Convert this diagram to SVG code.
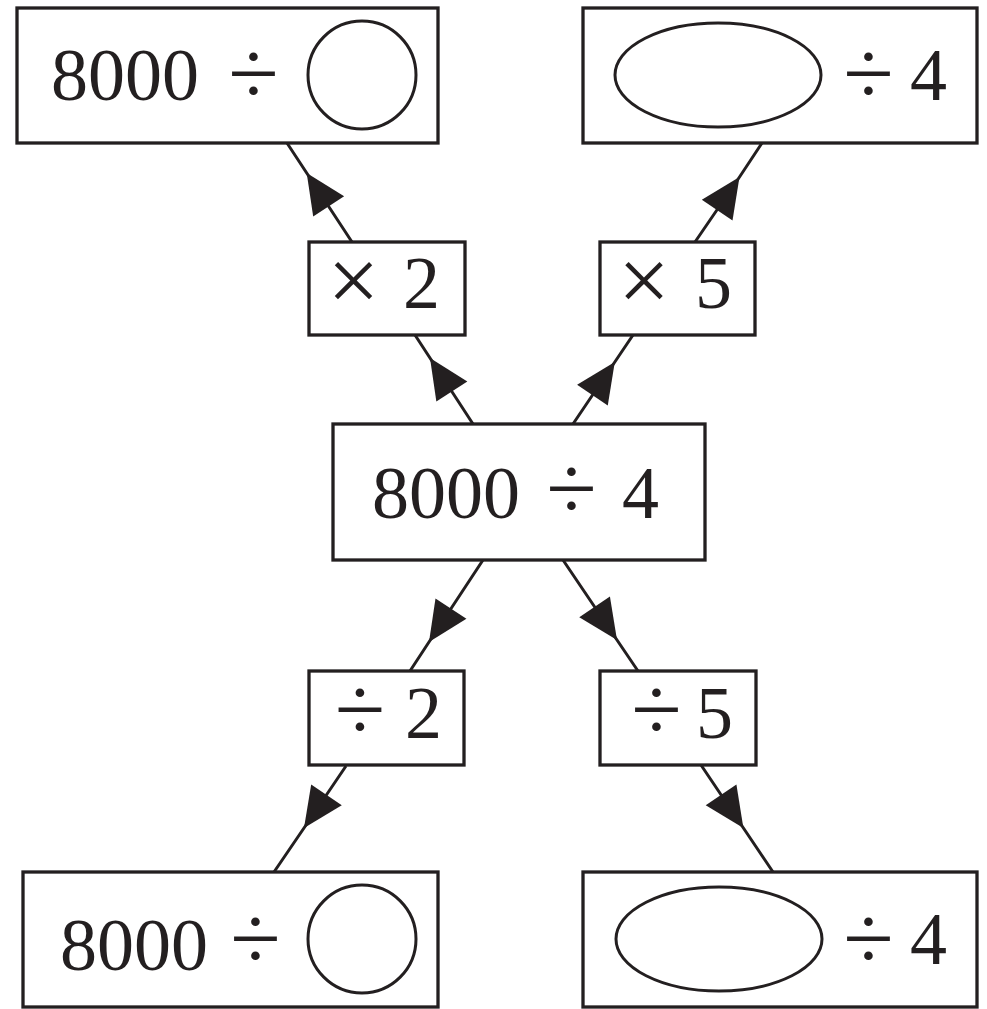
<svg xmlns="http://www.w3.org/2000/svg" width="987" height="1009" viewBox="0 0 987 1009">
<style>
.box{fill:#fff;stroke:#231f20;stroke-width:3.3}
.blank{fill:none;stroke:#231f20;stroke-width:3}
.t{font-family:"Liberation Serif","Times New Roman",serif;font-size:74px;fill:#231f20}
.op{font-family:"Liberation Serif","Times New Roman",serif;font-size:92px;fill:#231f20;text-anchor:middle}
.c{fill:none;stroke:#231f20;stroke-width:3;marker-mid:url(#ah)}
</style>
<defs>
<marker id="ah" markerUnits="userSpaceOnUse" markerWidth="60" markerHeight="60" viewBox="-50 -25 60 50" refX="0" refY="0" orient="auto" overflow="visible">
<polygon points="0,0 -40,-18.5 -40,18.5" fill="#231f20"/>
</marker>
</defs>
<rect width="987" height="1009" fill="#fff"/>
<g id="connectors">
<path class="c" d="M352,242 L306.7,173 L287,143"/>
<path class="c" d="M473,424 L430,358 L415,335"/>
<path class="c" d="M573,424 L614.8,362 L633,335"/>
<path class="c" d="M695,242 L739.5,177 L762,143"/>
<path class="c" d="M483,560 L429,642 L410,671"/>
<path class="c" d="M346,766 L304,828 L274,872"/>
<path class="c" d="M563,560 L617,640 L638,671"/>
<path class="c" d="M701,765 L743.4,828 L773,872"/>
</g>
<g id="top-left">
<rect class="box" x="17" y="8" width="421" height="135"/>
<text class="t" x="51" y="100">8000</text>
<text class="op" x="253.5" y="104">÷</text>
<circle class="blank" cx="362" cy="75" r="54"/>
</g>
<g id="top-right">
<rect class="box" x="583" y="8" width="394" height="135"/>
<ellipse class="blank" cx="718" cy="75" rx="103" ry="52"/>
<text class="op" x="868.5" y="104">÷</text>
<text class="t" x="910" y="100">4</text>
</g>
<g id="times-2">
<rect class="box" x="309" y="242" width="156" height="93"/>
<text class="op" x="353.5" y="311">×</text>
<text class="t" x="403" y="308">2</text>
</g>
<g id="times-5">
<rect class="box" x="600" y="242" width="155" height="93"/>
<text class="op" x="644" y="311">×</text>
<text class="t" x="695" y="308">5</text>
</g>
<g id="center">
<rect class="box" x="333" y="424" width="372" height="136"/>
<text class="t" x="372" y="518">8000</text>
<text class="op" x="571.5" y="519">÷</text>
<text class="t" x="622" y="518">4</text>
</g>
<g id="div-2">
<rect class="box" x="309" y="671" width="155" height="94"/>
<text class="op" x="360" y="740">÷</text>
<text class="t" x="405" y="738">2</text>
</g>
<g id="div-5">
<rect class="box" x="600" y="671" width="156" height="94"/>
<text class="op" x="656.5" y="740">÷</text>
<text class="t" x="696" y="738">5</text>
</g>
<g id="bottom-left">
<rect class="box" x="23" y="872" width="415" height="135"/>
<text class="t" x="60" y="970">8000</text>
<text class="op" x="255.5" y="969">÷</text>
<circle class="blank" cx="362" cy="939" r="54"/>
</g>
<g id="bottom-right">
<rect class="box" x="583" y="872" width="394" height="135"/>
<ellipse class="blank" cx="719" cy="939" rx="103" ry="52"/>
<text class="op" x="868.5" y="969">÷</text>
<text class="t" x="910" y="964">4</text>
</g>
</svg>
